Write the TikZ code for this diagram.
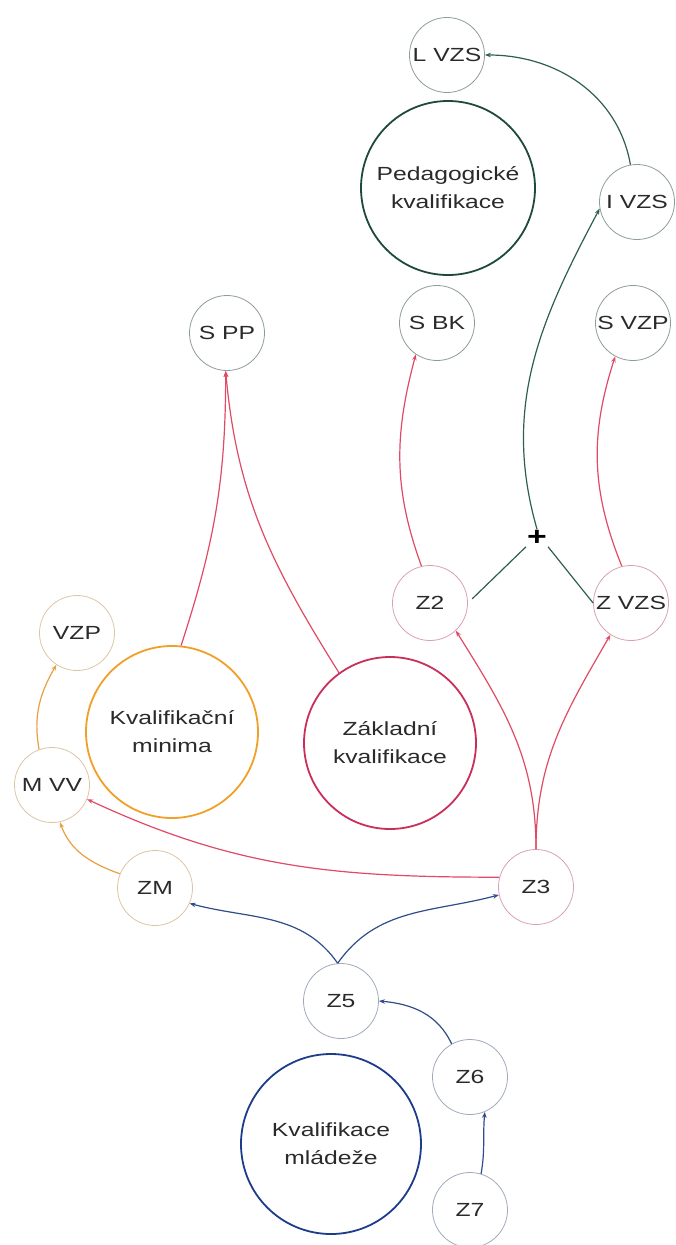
\documentclass[tikz,border=0pt]{standalone}
\usepackage{fontspec}
\newfontfamily\wf[FakeStretch=1.3]{Liberation Sans}
\usetikzlibrary{arrows.meta}
\definecolor{txt}{HTML}{2A2A2A}
\definecolor{egreen}{HTML}{2E5E4E}
\definecolor{ered}{HTML}{E04A64}
\definecolor{eorange}{HTML}{E8A040}
\definecolor{eblue}{HTML}{2F4D88}
\definecolor{cgray}{HTML}{8C9C96}
\definecolor{ctan}{HTML}{DCC4A4}
\definecolor{cpink}{HTML}{D8A0B0}
\definecolor{cblue}{HTML}{A0A8BC}
\definecolor{bgreen}{HTML}{1D4A3A}
\definecolor{borange}{HTML}{F0A028}
\definecolor{bred}{HTML}{C8305A}
\definecolor{bblue}{HTML}{1E3C8C}
\tikzset{
  small/.style={circle, draw, line width=0.8pt, inner sep=0pt, minimum size=75pt,
    text=txt, font={\wf\fontsize{19}{22}\selectfont}},
  big/.style={circle, draw, line width=1.8pt, inner sep=0pt, minimum size=174pt,
    text=txt, align=center, font={\wf\fontsize{19}{28}\selectfont}},
  conn/.style={line width=1.2pt, -{Stealth[length=6pt,width=4.5pt]}},
  plain/.style={line width=1.2pt},
}
\begin{document}
\begin{tikzpicture}[x=1pt,y=1pt]
\useasboundingbox (0,0) rectangle (676,-1245);
% big circles
\node[big, draw=bgreen] (Ped) at (448,-188) {Pedagogické\\kvalifikace};
\node[big, draw=borange, minimum size=172pt] (KM) at (172,-732) {Kvalifikační\\minima};
\node[big, draw=bred, minimum size=172pt] (ZK) at (390,-743) {Základní\\kvalifikace};
\node[big, draw=bblue, minimum size=180pt] (KMl) at (331,-1144) {Kvalifikace\\mládeže};
% small circles
\node[small, draw=cgray] (LVZS) at (447,-55) {L VZS};
\node[small, draw=cgray] (IVZS) at (637,-202) {I VZS};
\node[small, draw=cgray] (SBK) at (437,-323) {S BK};
\node[small, draw=cgray] (SVZP) at (633,-323) {S VZP};
\node[small, draw=cgray] (SPP) at (227,-333) {S PP};
\node[small, draw=cpink] (Z2) at (430,-603) {Z2};
\node[small, draw=cpink] (ZVZS) at (631,-603) {Z VZS};
\node[small, draw=cpink] (Z3) at (536,-887) {Z3};
\node[small, draw=ctan] (VZP) at (77,-633) {VZP};
\node[small, draw=ctan] (MVV) at (52,-785) {M VV};
\node[small, draw=ctan] (ZM) at (155,-888) {ZM};
\node[small, draw=cblue] (Z5) at (341,-1001) {Z5};
\node[small, draw=cblue] (Z6) at (470,-1077) {Z6};
\node[small, draw=cblue] (Z7) at (470,-1210) {Z7};
\node[inner sep=1pt, font={\wf\fontsize{26}{26}\selectfont\bfseries}] (plus) at (537,-538) {+};
% green
\draw[conn, egreen] (IVZS.100) to[out=100,in=0] (LVZS.east);
\draw[conn, egreen] (plus.north) to[out=106,in=-118] (IVZS.190);
\draw[plain, egreen, shorten <=6pt] (Z2.east) -- (plus.south west);
\draw[plain, egreen] (ZVZS.west) -- (plus.south east);
% red
\draw[conn, ered] (Z2.103) to[out=110,in=-105] (SBK.236);
\draw[conn, ered] (ZVZS.104) to[out=112,in=-108] (SVZP.242);
\draw[conn, ered] (KM.84) to[out=72,in=-90] (SPP.268);
\draw[conn, ered] (ZK.126) to[out=122,in=-85] (SPP.268);
\draw[conn, ered] (Z3.north) to[out=90,in=-58] (Z2.-47);
\draw[conn, ered] (Z3.north) to[out=90,in=-120] (ZVZS.-123);
\draw[conn, ered] (Z3.165) to[out=180,in=-25] (MVV.-22);
% orange
\draw[conn, eorange] (ZM.158) to[out=160,in=-70] (MVV.-78);
\draw[conn, eorange] (MVV.110) to[out=100,in=-120] (VZP.-123);
% blue
\draw[conn, eblue] (Z5.95) to[out=125,in=-15] (ZM.-24);
\draw[conn, eblue] (Z5.95) to[out=55,in=-165] (Z3.192);
\draw[conn, eblue] (Z6.119) to[out=115,in=-5] (Z5.east);
\draw[conn, eblue] (Z7.73) to[out=80,in=-95] (Z6.-67);
\end{tikzpicture}
\end{document}
